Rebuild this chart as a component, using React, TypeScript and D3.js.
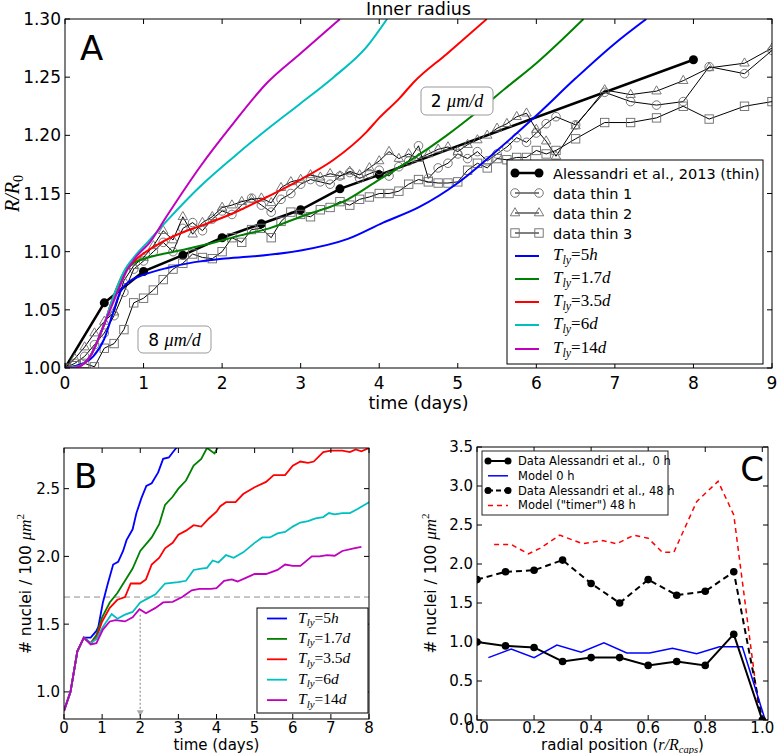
import * as d3 from 'd3';

type P = [number, number];
const zip = (t: number[], v: number[]): P[] => t.map((d, i) => [d, v[i]] as P);

// ---------- Panel A: inner radius R/R0 against time ----------
const aXTicks = [0, 1, 2, 3, 4, 5, 6, 7, 8, 9];
const aYTicks = [1.0, 1.05, 1.1, 1.15, 1.2, 1.25, 1.3];

const alessT = [0, 0.5, 1, 1.5, 2, 2.5, 3, 3.5, 4, 8];
const alessR = [1.0, 1.056, 1.083, 1.097, 1.112, 1.124, 1.136, 1.154, 1.166, 1.265];

const thinT = [
  0, 0.125, 0.25, 0.375, 0.5, 0.625, 0.75, 0.875, 1, 1.125, 1.25, 1.375, 1.5, 1.625, 1.75, 1.875,
  2, 2.125, 2.25, 2.375, 2.5, 2.625, 2.75, 2.875, 3, 3.125, 3.25, 3.375, 3.5, 3.625, 3.75, 3.875,
  4, 4.125, 4.25, 4.375, 4.5, 4.625, 4.75, 4.875, 5, 5.125, 5.25, 5.375, 5.5, 5.625, 5.75, 5.875,
  6, 6.125, 6.25, 6.5, 6.87, 7.2, 7.53, 7.87, 8.2, 8.65, 9.0,
];
const thin1R = [
  1.0, 1.004, 1.01, 1.02, 1.03, 1.045, 1.065, 1.085, 1.092, 1.1, 1.108, 1.1, 1.12, 1.125, 1.118, 1.128,
  1.135, 1.132, 1.14, 1.146, 1.14, 1.134, 1.145, 1.15, 1.158, 1.162, 1.16, 1.158, 1.165, 1.168, 1.163, 1.167,
  1.17, 1.165, 1.173, 1.178, 1.191, 1.163, 1.172, 1.176, 1.184, 1.18, 1.186, 1.178, 1.184, 1.19, 1.198, 1.194,
  1.202, 1.21, 1.216, 1.209, 1.237, 1.229, 1.226, 1.229, 1.259, 1.253, 1.273,
];
const thin2R = [
  1.0, 1.008, 1.018, 1.03, 1.04, 1.048, 1.075, 1.088, 1.095, 1.105, 1.118, 1.11, 1.13, 1.115, 1.125, 1.13,
  1.138, 1.14, 1.143, 1.145, 1.146, 1.142, 1.155, 1.16, 1.162, 1.166, 1.164, 1.167, 1.165, 1.169, 1.166, 1.172,
  1.178, 1.186, 1.18, 1.184, 1.18, 1.184, 1.188, 1.19, 1.186, 1.192, 1.196, 1.2, 1.206, 1.21, 1.216, 1.219,
  1.205, 1.195, 1.182, 1.208, 1.239, 1.235, 1.238, 1.247, 1.258, 1.262, 1.275,
];
const thin3R = [
  1.0, 1.002, 1.004, 1.001, 1.017, 1.021, 1.033, 1.056, 1.06, 1.067, 1.076, 1.085, 1.09, 1.098, 1.095, 1.094,
  1.1, 1.112, 1.108, 1.119, 1.12, 1.112, 1.126, 1.134, 1.132, 1.13, 1.136, 1.138, 1.143, 1.14, 1.145, 1.147,
  1.15, 1.15, 1.152, 1.158, 1.162, 1.16, 1.159, 1.159, 1.16, 1.17, 1.176, 1.172, 1.18, 1.179, 1.181, 1.181,
  1.187, 1.184, 1.187, 1.197, 1.211, 1.211, 1.215, 1.225, 1.214, 1.225, 1.229,
];

const a5hT = [0, 0.15, 0.36, 0.5, 0.6, 0.7, 0.83, 1.0, 1.3, 1.65, 2.0, 2.4, 3.0, 3.6, 4.05, 4.5, 5.0, 5.5, 6.0, 6.5, 7.0, 7.4];
const a5hR = [1.0, 1.002, 1.01, 1.025, 1.045, 1.065, 1.075, 1.08, 1.086, 1.091, 1.094, 1.096, 1.101, 1.111, 1.125, 1.138, 1.159, 1.187, 1.217, 1.249, 1.279, 1.3];
const a17T = [0, 0.15, 0.32, 0.49, 0.62, 0.74, 0.87, 1.12, 1.46, 1.85, 2.23, 2.6, 3.0, 3.6, 4.0, 4.43, 4.86, 5.28, 5.6, 6.0, 6.6];
const a17R = [1.0, 1.001, 1.01, 1.036, 1.06, 1.08, 1.09, 1.096, 1.101, 1.107, 1.114, 1.12, 1.13, 1.145, 1.162, 1.18, 1.2, 1.222, 1.24, 1.262, 1.3];
const a35T = [0, 0.15, 0.32, 0.49, 0.62, 0.75, 0.9, 1.2, 1.55, 1.72, 2.14, 2.57, 3.0, 3.42, 3.84, 4.0, 4.26, 4.43, 4.86, 5.37];
const a35R = [1.0, 1.001, 1.01, 1.036, 1.062, 1.082, 1.093, 1.107, 1.118, 1.122, 1.133, 1.147, 1.162, 1.179, 1.203, 1.215, 1.232, 1.245, 1.27, 1.3];
const a6T = [0, 0.15, 0.32, 0.49, 0.62, 0.75, 0.9, 1.05, 1.29, 1.72, 2.14, 2.57, 2.99, 3.42, 3.84, 4.1];
const a6R = [1.0, 1.001, 1.01, 1.036, 1.062, 1.083, 1.097, 1.108, 1.126, 1.156, 1.181, 1.205, 1.227, 1.25, 1.276, 1.3];
const a14T = [0, 0.1, 0.19, 0.32, 0.49, 0.66, 0.79, 0.91, 1.08, 1.29, 1.72, 2.14, 2.57, 2.99, 3.5];
const a14R = [1.0, 1.0, 1.0015, 1.01, 1.036, 1.064, 1.084, 1.096, 1.108, 1.13, 1.173, 1.21, 1.245, 1.27, 1.3];

const modelNums = ['5', '1.7', '3.5', '6', '14'];
const modelUnits = ['h', 'd', 'd', 'd', 'd'];
const modelColors = ['#0000ff', '#008000', '#ff0000', '#00bfbf', '#bf00bf'];

// ---------- Panel B: nuclei density against time ----------
const bXTicks = [0, 1, 2, 3, 4, 5, 6, 7, 8];
const bYTicks = [1.0, 1.5, 2.0, 2.5];
const bEarlyT = [0, 0.17, 0.35, 0.52];
const bEarlyN = [0.86, 1.0, 1.3, 1.4];
const b5hT = [0.7, 0.85, 0.9, 1.02, 1.15, 1.29, 1.42, 1.55, 1.64, 1.8, 1.9, 2.03, 2.16, 2.3, 2.47, 2.6, 2.75, 2.86, 3.0];
const b5hN = [1.4, 1.45, 1.48, 1.66, 1.8, 1.94, 1.96, 2.04, 2.12, 2.2, 2.32, 2.43, 2.52, 2.54, 2.62, 2.72, 2.73, 2.77, 2.82];
const b17T = [0.7, 0.85, 1.0, 1.2, 1.4, 1.6, 1.8, 2.0, 2.3, 2.5, 2.65, 2.85, 3.0, 3.2, 3.4, 3.6, 3.75, 3.95, 4.1];
const b17N = [1.36, 1.42, 1.55, 1.66, 1.73, 1.82, 1.91, 2.04, 2.14, 2.24, 2.38, 2.44, 2.5, 2.56, 2.67, 2.72, 2.8, 2.76, 2.84];
const b35T = [0.7, 0.85, 1.0, 1.2, 1.4, 1.6, 1.75, 2.0, 2.15, 2.3, 2.5, 2.65, 2.85, 3.0, 3.2, 3.4, 3.6, 3.8, 4.0, 4.1, 4.25, 4.5, 4.7, 5.0, 5.3, 5.5, 5.8, 6.0, 6.2, 6.4, 6.55, 6.8, 7.0, 7.3, 7.5, 7.65, 7.8, 8.0];
const b35N = [1.36, 1.4, 1.52, 1.62, 1.68, 1.7, 1.8, 1.8, 1.83, 1.94, 1.99, 2.06, 2.1, 2.16, 2.19, 2.23, 2.22, 2.28, 2.33, 2.37, 2.4, 2.4, 2.46, 2.51, 2.55, 2.6, 2.6, 2.67, 2.7, 2.69, 2.7, 2.77, 2.78, 2.78, 2.77, 2.79, 2.775, 2.8];
const b6T = [0.7, 0.85, 1.02, 1.25, 1.4, 1.6, 1.8, 2.0, 2.2, 2.4, 2.65, 3.0, 3.2, 3.4, 3.6, 3.75, 3.9, 4.05, 4.25, 4.45, 4.7, 5.0, 5.2, 5.4, 5.6, 5.8, 6.0, 6.2, 6.4, 6.6, 6.8, 6.95, 7.1, 7.3, 7.5, 7.7, 8.0];
const b6N = [1.36, 1.39, 1.48, 1.575, 1.54, 1.57, 1.59, 1.66, 1.69, 1.72, 1.8, 1.81, 1.82, 1.9, 1.91, 1.915, 1.97, 1.955, 2.01, 1.99, 2.03, 2.1, 2.14, 2.14, 2.17, 2.18, 2.22, 2.25, 2.26, 2.28, 2.29, 2.32, 2.31, 2.32, 2.32, 2.35, 2.4];
const b14T = [0.7, 0.85, 1.02, 1.2, 1.35, 1.6, 1.8, 1.98, 2.15, 2.4, 2.6, 2.85, 3.1, 3.35, 3.55, 3.85, 4.0, 4.2, 4.4, 4.55, 4.8, 5.0, 5.3, 5.6, 5.8, 6.0, 6.2, 6.5, 6.7, 6.9, 7.1, 7.3, 7.6, 7.8];
const b14N = [1.35, 1.36, 1.46, 1.52, 1.53, 1.52, 1.55, 1.61, 1.58, 1.62, 1.66, 1.665, 1.7, 1.75, 1.76, 1.76, 1.765, 1.82, 1.83, 1.815, 1.845, 1.87, 1.87, 1.9, 1.94, 1.93, 1.93, 2.0, 2.0, 2.01, 2.005, 2.04, 2.06, 2.07];
const bThreshold = 1.7;
const bArrowT = 2;
const bArrowTop = 1.57;

// ---------- Panel C: nuclei density against radial position ----------
const cXTicks = [0, 0.2, 0.4, 0.6, 0.8, 1.0];
const cYTicks = [0, 0.5, 1.0, 1.5, 2.0, 2.5, 3.0, 3.5];
const cDataR = [0, 0.1, 0.2, 0.3, 0.4, 0.5, 0.6, 0.7, 0.8, 0.9, 1.0];
const cData0h = [1.0, 0.95, 0.93, 0.75, 0.8, 0.8, 0.7, 0.75, 0.7, 1.1, 0.0];
const cData48h = [1.8, 1.9, 1.92, 2.05, 1.75, 1.5, 1.8, 1.6, 1.65, 1.9, 0.0];
const cModel0hR = [0.04, 0.12, 0.2, 0.28, 0.365, 0.445, 0.525, 0.605, 0.685, 0.77, 0.85, 0.93, 1.01];
const cModel0hN = [0.8, 0.91, 0.8, 0.96, 0.87, 0.99, 0.86, 0.86, 0.92, 0.85, 0.94, 0.94, 0.0];
const cTimerR = [0.06, 0.12, 0.18, 0.22, 0.29, 0.37, 0.44, 0.49, 0.55, 0.6, 0.65, 0.69, 0.77, 0.845, 0.9, 0.985];
const cTimerN = [2.25, 2.25, 2.13, 2.2, 2.37, 2.26, 2.3, 2.26, 2.37, 2.33, 2.15, 2.15, 2.8, 3.06, 2.63, 0.22];

// scales
const ax = d3.scaleLinear().domain([0, 9]).range([65, 772]);
const ay = d3.scaleLinear().domain([1.0, 1.3]).range([368, 19]);
const bx = d3.scaleLinear().domain([0, 8]).range([64, 369]);
const by = d3.scaleLinear().domain([0.8, 2.8]).range([719, 448]);
const cx = d3.scaleLinear().domain([0, 1.02]).range([477, 768]);
const cy = d3.scaleLinear().domain([0, 3.5]).range([720, 447]);

const SERIF = 'Liberation Serif';

function Frame({ sx, sy, xTicks, yTicks, xFmt, yFmt, fs, xDy }: any) {
  const [l, r] = sx.range();
  const [b, t] = sy.range();
  const tl = 5;
  return (
    <g>
      {xTicks.map((v: number) => (
        <g key={'x' + v}>
          <line x1={sx(v)} x2={sx(v)} y1={b} y2={b - tl} stroke="#000" />
          <line x1={sx(v)} x2={sx(v)} y1={t} y2={t + tl} stroke="#000" />
          <text x={sx(v)} y={b + xDy} textAnchor="middle" fontSize={fs}>{xFmt(v)}</text>
        </g>
      ))}
      {yTicks.map((v: number) => (
        <g key={'y' + v}>
          <line x1={l} x2={l + tl} y1={sy(v)} y2={sy(v)} stroke="#000" />
          <line x1={r} x2={r - tl} y1={sy(v)} y2={sy(v)} stroke="#000" />
          <text x={l - 4} y={sy(v)} dy="0.36em" textAnchor="end" fontSize={fs}>{yFmt(v)}</text>
        </g>
      ))}
      <rect x={l} y={t} width={r - l} height={b - t} fill="none" stroke="#000" strokeWidth={1} />
    </g>
  );
}

function Marker({ kind, x, y }: { kind: string; x: number; y: number }) {
  const s = '#6a6a6a';
  if (kind === 'circle') return <circle cx={x} cy={y} r={4.3} fill="none" stroke={s} strokeWidth={0.9} />;
  if (kind === 'triangle')
    return <path d={`M${x},${y - 5.3}L${x + 4.7},${y + 2.8}L${x - 4.7},${y + 2.8}Z`} fill="none" stroke={s} strokeWidth={0.9} />;
  return <rect x={x - 4.2} y={y - 4.2} width={8.4} height={8.4} fill="none" stroke={s} strokeWidth={0.9} />;
}

function Tly({ x, y, num, unit, fs }: { x: number; y: number; num: string; unit: string; fs: number }) {
  return (
    <text x={x} y={y} fontFamily={SERIF} fontSize={fs}>
      <tspan fontStyle="italic">T</tspan>
      <tspan fontStyle="italic" fontSize={fs * 0.7} dy={fs * 0.22}>ly</tspan>
      <tspan dy={-fs * 0.22}>{'=' + num}</tspan>
      <tspan fontStyle="italic">{unit}</tspan>
    </text>
  );
}

function RateBox({ x, y, w, h, num }: { x: number; y: number; w: number; h: number; num: string }) {
  return (
    <g>
      <rect x={x} y={y} width={w} height={h} rx={5} fill="#fff" stroke="#999" strokeWidth={1} />
      <text x={x + w / 2} y={y + h / 2 + 6} textAnchor="middle" fontSize={17}>
        {num + '\u00a0'}
        <tspan fontFamily={SERIF} fontStyle="italic" fontSize={18}>μm/d</tspan>
      </text>
    </g>
  );
}

export default function App() {
  const lineA = d3.line<P>().x((d) => ax(d[0])).y((d) => ay(d[1]));
  const smoothA = d3.line<P>().x((d) => ax(d[0])).y((d) => ay(d[1])).curve(d3.curveMonotoneX);
  const lineB = d3.line<P>().x((d) => bx(d[0])).y((d) => by(d[1]));
  const lineC = d3.line<P>().x((d) => cx(d[0])).y((d) => cy(d[1]));

  const thinSeries = [
    { r: thin1R, kind: 'circle', label: 'data thin 1' },
    { r: thin2R, kind: 'triangle', label: 'data thin 2' },
    { r: thin3R, kind: 'square', label: 'data thin 3' },
  ];
  const modelsA = [zip(a5hT, a5hR), zip(a17T, a17R), zip(a35T, a35R), zip(a6T, a6R), zip(a14T, a14R)];
  const early = zip(bEarlyT, bEarlyN);
  const modelsB = [
    early.concat(zip(b5hT, b5hN)),
    early.concat(zip(b17T, b17N)),
    early.concat(zip(b35T, b35N)),
    early.concat(zip(b6T, b6N)),
    early.concat(zip(b14T, b14N)),
  ];
  const aless = zip(alessT, alessR);
  const c0 = zip(cDataR, cData0h);
  const c48 = zip(cDataR, cData48h);

  const legA = { x: 507, y: 160, w: 256, h: 204 };
  const legARows = [173, 193, 213, 233, 256, 279, 302, 325, 349];
  const legB = { x: 257, y: 608, w: 111, h: 105 };
  const legC = { x: 482, y: 451, w: 186, h: 64 };

  const f2 = d3.format('.2f');
  const f1 = d3.format('.1f');
  const fi = d3.format('d');

  return (
    <svg width={777} height={754} style={{ position: 'absolute', left: 0, top: 0, background: '#fff' }} fontFamily="DejaVu Sans">
      <defs>
        <clipPath id="clipA"><rect x={65} y={19} width={707} height={349} /></clipPath>
        <clipPath id="clipB"><rect x={64} y={448} width={305} height={271} /></clipPath>
        <clipPath id="clipC"><rect x={477} y={447} width={291} height={273} /></clipPath>
      </defs>
      <rect x={0} y={0} width={777} height={754} fill="#fff" />

      {/* ---------------- Panel A ---------------- */}
      <text x={418.5} y={15} textAnchor="middle" fontSize={17.5}>Inner radius</text>
      <g clipPath="url(#clipA)">
        <path d={lineA(aless) || ''} fill="none" stroke="#000" strokeWidth={2.5} />
        {aless.map((d, i) => <circle key={'al' + i} cx={ax(d[0])} cy={ay(d[1])} r={4.5} fill="#000" />)}
        {thinSeries.map((s, k) => {
          const pts = zip(thinT, s.r);
          return (
            <g key={'thin' + k}>
              <path d={lineA(pts) || ''} fill="none" stroke="#000" strokeWidth={1} />
              {pts.map((d, i) => <Marker key={i} kind={s.kind} x={ax(d[0])} y={ay(d[1])} />)}
            </g>
          );
        })}
        {modelsA.map((pts, k) => (
          <path key={'ma' + k} d={smoothA(pts) || ''} fill="none" stroke={modelColors[k]} strokeWidth={2} />
        ))}
      </g>
      <RateBox x={421} y={87} w={72} h={28} num="2" />
      <RateBox x={138} y={326} w={73} h={27} num="8" />
      <text x={80} y={60} fontSize={34}>A</text>
      <Frame sx={ax} sy={ay} xTicks={aXTicks} yTicks={aYTicks} xFmt={fi} yFmt={f2} fs={17} xDy={20.5} />
      <text x={418.5} y={409} textAnchor="middle" fontSize={17.5}>time (days)</text>
      <text transform="translate(19,193.5) rotate(-90)" textAnchor="middle" fontFamily={SERIF} fontStyle="italic" fontSize={20}>
        R/R<tspan fontStyle="normal" fontSize={14} dy={4}>0</tspan>
      </text>

      {/* legend A */}
      <rect x={legA.x} y={legA.y} width={legA.w} height={legA.h} fill="#fff" stroke="#000" strokeWidth={1} />
      <g>
        <line x1={legA.x + 8} x2={legA.x + 32} y1={legARows[0]} y2={legARows[0]} stroke="#000" strokeWidth={2.5} />
        <circle cx={legA.x + 8} cy={legARows[0]} r={4.5} fill="#000" />
        <circle cx={legA.x + 32} cy={legARows[0]} r={4.5} fill="#000" />
        <text x={legA.x + 46} y={legARows[0] + 5.5} fontSize={14.5}>Alessandri et al., 2013 (thin)</text>
        {thinSeries.map((s, k) => (
          <g key={'lt' + k}>
            <line x1={legA.x + 8} x2={legA.x + 32} y1={legARows[k + 1]} y2={legARows[k + 1]} stroke="#000" strokeWidth={1} />
            <Marker kind={s.kind} x={legA.x + 8} y={legARows[k + 1]} />
            <Marker kind={s.kind} x={legA.x + 32} y={legARows[k + 1]} />
            <text x={legA.x + 46} y={legARows[k + 1] + 5.5} fontSize={14.5}>{s.label}</text>
          </g>
        ))}
        {modelColors.map((c, k) => (
          <g key={'lm' + k}>
            <line x1={legA.x + 8} x2={legA.x + 32} y1={legARows[k + 4]} y2={legARows[k + 4]} stroke={c} strokeWidth={2} />
            <Tly x={legA.x + 46} y={legARows[k + 4] + 4} num={modelNums[k]} unit={modelUnits[k]} fs={17} />
          </g>
        ))}
      </g>

      {/* ---------------- Panel B ---------------- */}
      <line x1={bx(0)} x2={bx(8)} y1={by(bThreshold)} y2={by(bThreshold)} stroke="#8c8c8c" strokeWidth={1} strokeDasharray="6,4" />
      <g clipPath="url(#clipB)">
        {modelsB.map((pts, k) => (
          <path key={'mb' + k} d={lineB(pts) || ''} fill="none" stroke={modelColors[k]} strokeWidth={1.8} />
        ))}
      </g>
      <line x1={bx(bArrowT)} x2={bx(bArrowT)} y1={by(bArrowTop)} y2={by(0.82)} stroke="#aaa" strokeWidth={1.5} strokeDasharray="2,2" />
      <path d={`M${bx(bArrowT) - 3.5},${by(0.82) - 6}L${bx(bArrowT) + 3.5},${by(0.82) - 6}L${bx(bArrowT)},${by(0.82)}Z`} fill="#aaa" />
      <text x={74} y={488} fontSize={34}>B</text>
      <Frame sx={bx} sy={by} xTicks={bXTicks} yTicks={bYTicks} xFmt={fi} yFmt={f1} fs={15} xDy={13.5} />
      <text x={216.5} y={750} textAnchor="middle" fontSize={15}>time (days)</text>
      <text transform="translate(31,584) rotate(-90)" textAnchor="middle" fontSize={15.5}>
        {'# nuclei / 100\u00a0'}
        <tspan fontFamily={SERIF} fontStyle="italic" fontSize={17}>μm</tspan>
        <tspan fontFamily={SERIF} fontSize={11} dy={-7}>2</tspan>
      </text>
      <rect x={legB.x} y={legB.y} width={legB.w} height={legB.h} fill="#fff" stroke="#000" strokeWidth={1} />
      {modelColors.map((c, k) => {
        const yy = legB.y + 10.5 + k * 20.4;
        return (
          <g key={'lb' + k}>
            <line x1={legB.x + 10} x2={legB.x + 30} y1={yy} y2={yy} stroke={c} strokeWidth={1.8} />
            <Tly x={legB.x + 41} y={yy + 4} num={modelNums[k]} unit={modelUnits[k]} fs={15.5} />
          </g>
        );
      })}

      {/* ---------------- Panel C ---------------- */}
      <g clipPath="url(#clipC)">
        <path d={lineC(zip(cTimerR, cTimerN)) || ''} fill="none" stroke="#ff0000" strokeWidth={1.5} strokeDasharray="5,4" />
        <path d={lineC(c48) || ''} fill="none" stroke="#000" strokeWidth={2} strokeDasharray="6,4" />
        {c48.slice(0, 10).map((d, i) => <circle key={'c48' + i} cx={cx(d[0])} cy={cy(d[1])} r={3.8} fill="#000" />)}
        <path d={lineC(zip(cModel0hR, cModel0hN)) || ''} fill="none" stroke="#0000ff" strokeWidth={1.5} />
        <path d={lineC(c0) || ''} fill="none" stroke="#000" strokeWidth={2} />
        {c0.map((d, i) => <circle key={'c0' + i} cx={cx(d[0])} cy={cy(d[1])} r={3.8} fill="#000" />)}
      </g>
      <Frame sx={cx} sy={cy} xTicks={cXTicks} yTicks={cYTicks} xFmt={f1} yFmt={f1} fs={15} xDy={13} />
      <text x={764} y={481} textAnchor="end" fontSize={34}>C</text>
      <text x={622.5} y={750} textAnchor="middle" fontSize={15}>
        {'radial position ('}
        <tspan fontFamily={SERIF} fontStyle="italic" fontSize={16}>r/R</tspan>
        <tspan fontFamily={SERIF} fontStyle="italic" fontSize={10.5} dy={3}>caps</tspan>
        <tspan dy={-3}>)</tspan>
      </text>
      <text transform="translate(436,583.5) rotate(-90)" textAnchor="middle" fontSize={15.5}>
        {'# nuclei / 100\u00a0'}
        <tspan fontFamily={SERIF} fontStyle="italic" fontSize={17}>μm</tspan>
        <tspan fontFamily={SERIF} fontSize={11} dy={-7}>2</tspan>
      </text>
      <rect x={legC.x} y={legC.y} width={legC.w} height={legC.h} fill="#fff" stroke="#222" strokeWidth={1} />
      {[0, 1, 2, 3].map((k) => {
        const yy = legC.y + 10 + k * 14.8;
        const x1 = legC.x + 6;
        const x2 = legC.x + 26;
        const labels = ['Data Alessandri et al.,\u00a0 0 h', 'Model 0 h', 'Data Alessandri et al., 48 h', 'Model ("timer") 48 h'];
        return (
          <g key={'lc' + k}>
            {k === 0 && <line x1={x1} x2={x2} y1={yy} y2={yy} stroke="#000" strokeWidth={2} />}
            {k === 1 && <line x1={x1} x2={x2} y1={yy} y2={yy} stroke="#0000ff" strokeWidth={1.5} />}
            {k === 2 && <line x1={x1} x2={x2} y1={yy} y2={yy} stroke="#000" strokeWidth={2} strokeDasharray="5,3" />}
            {k === 3 && <line x1={x1} x2={x2} y1={yy} y2={yy} stroke="#ff0000" strokeWidth={1.5} strokeDasharray="5,4" />}
            {(k === 0 || k === 2) && <circle cx={x1} cy={yy} r={3.5} fill="#000" />}
            {(k === 0 || k === 2) && <circle cx={x2} cy={yy} r={3.5} fill="#000" />}
            <text x={legC.x + 36} y={yy + 4} fontSize={11.5}>{labels[k]}</text>
          </g>
        );
      })}
    </svg>
  );
}
